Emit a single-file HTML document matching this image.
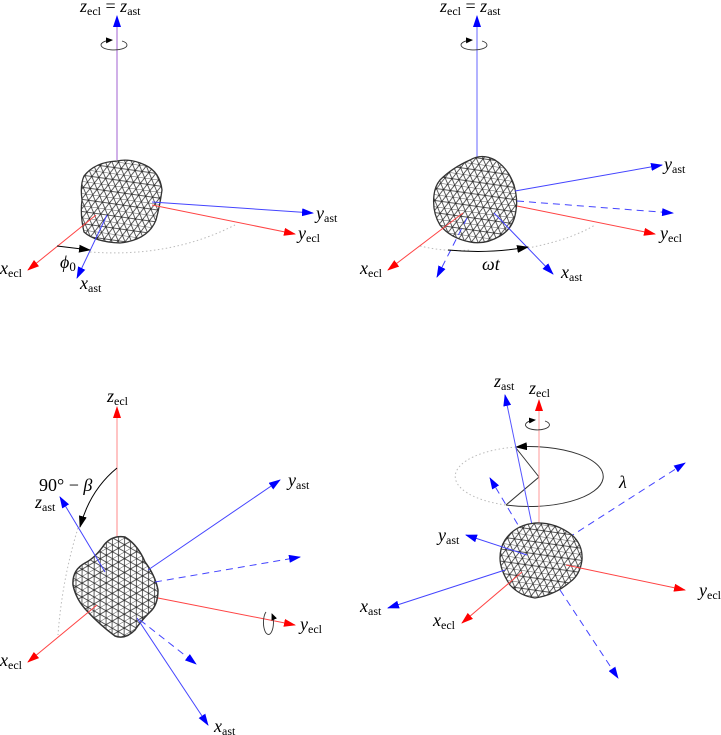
<!DOCTYPE html>
<html><head><meta charset="utf-8">
<style>
html,body{margin:0;padding:0;background:#fff;}
svg{display:block;}
text{font-family:"Liberation Serif",serif;fill:#000;}
.m{font-style:italic;font-size:18px;}
.s{font-size:12px;font-style:normal;}
</style></head><body>
<svg width="721" height="735" viewBox="0 0 721 735" xmlns="http://www.w3.org/2000/svg">
<defs>
<pattern id="mesh" width="7" height="12" patternUnits="userSpaceOnUse" patternTransform="rotate(8)">
<rect width="7" height="12" fill="#fff"/>
<path d="M0 0H7M0 6H7M0 0L7 12M7 0L0 12" stroke="#222" stroke-width="0.7" fill="none"/>
</pattern>
<pattern id="mesh2" width="7" height="12" patternUnits="userSpaceOnUse" patternTransform="rotate(-30)">
<rect width="7" height="12" fill="#fff"/>
<path d="M0 0H7M0 6H7M0 0L7 12M7 0L0 12" stroke="#222" stroke-width="0.7" fill="none"/>
</pattern>
<marker id="ab" markerWidth="12" markerHeight="8" refX="11" refY="4" orient="auto" markerUnits="userSpaceOnUse"><path d="M0 0L12 4L0 8Z" fill="#00f"/></marker>
<marker id="ar" markerWidth="12" markerHeight="8" refX="11" refY="4" orient="auto" markerUnits="userSpaceOnUse"><path d="M0 0L12 4L0 8Z" fill="#f00"/></marker>
<marker id="ak" markerWidth="12" markerHeight="8" refX="11" refY="4" orient="auto" markerUnits="userSpaceOnUse"><path d="M0 0L12 4L0 8Z" fill="#000"/></marker>
<marker id="aks" markerWidth="7" markerHeight="6" refX="6" refY="3" orient="auto" markerUnits="userSpaceOnUse"><path d="M0 0L7 3L0 6Z" fill="#000"/></marker>
</defs>

<!-- ============ PANEL 1 ============ -->
<path d="M90 252 Q170 258 235 225" stroke="#bbb" stroke-width="1" stroke-dasharray="1.5,2.5" fill="none"/>
<line x1="117" y1="160" x2="117" y2="16" stroke="#a060d0" stroke-width="1" marker-end="url(#ab)"/>
<path d="M112 47 A13 5 0 1 1 122 48" stroke="#333" fill="none" stroke-width="0.9" marker-end="url(#aks)" transform="rotate(180 117 44)"/>
<path d="M84 176 Q95 162 117 161 Q130 158 145 165 Q160 172 162 190 Q160 205 156 220 Q148 240 120 243 Q95 242 84 232 Q80 215 82 200 Q80 185 84 176Z" fill="url(#mesh)" stroke="#333" stroke-width="1.3"/>
<line x1="152" y1="202" x2="313" y2="213" stroke="#44f" stroke-width="1" marker-end="url(#ab)"/>
<line x1="152" y1="205" x2="295" y2="234" stroke="#f44" stroke-width="1" marker-end="url(#ar)"/>
<line x1="96" y1="215" x2="28" y2="270" stroke="#f44" stroke-width="1" marker-end="url(#ar)"/>
<line x1="107" y1="215" x2="77" y2="278" stroke="#44f" stroke-width="1" marker-end="url(#ab)"/>
<line x1="57" y1="246" x2="90" y2="250" stroke="#000" stroke-width="1" marker-end="url(#ak)"/>
<text x="80" y="12" class="m">z<tspan class="s" dy="3">ecl</tspan><tspan dy="-3" style="font-style:normal"> = </tspan>z<tspan class="s" dy="3">ast</tspan></text>
<text x="316" y="219" class="m">y<tspan class="s" dy="3">ast</tspan></text>
<text x="298" y="239" class="m">y<tspan class="s" dy="3">ecl</tspan></text>
<text x="0" y="274" class="m">x<tspan class="s" dy="3">ecl</tspan></text>
<text x="80" y="289" class="m">x<tspan class="s" dy="3">ast</tspan></text>
<text x="60" y="268" class="m">ϕ<tspan class="s" dy="3" style="font-size:13px">0</tspan></text>

<!-- ============ PANEL 2 ============ -->
<path d="M420 246 Q445 252 470 250" stroke="#bbb" stroke-width="1" stroke-dasharray="1.5,2.5" fill="none"/>
<path d="M528 248 Q570 240 595 225" stroke="#bbb" stroke-width="1" stroke-dasharray="1.5,2.5" fill="none"/>
<line x1="477" y1="158" x2="477" y2="16" stroke="#66f" stroke-width="1" marker-end="url(#ab)"/>
<path d="M472 47 A13 5 0 1 1 482 48" stroke="#333" fill="none" stroke-width="0.9" marker-end="url(#aks)" transform="rotate(180 477 44)"/>
<path d="M440 180 Q452 168 470 160 Q482 153 495 160 Q508 168 514 185 Q518 200 516 210 Q514 228 500 236 Q485 245 470 242 Q450 238 440 225 Q432 212 434 195 Q435 186 440 180Z" fill="url(#mesh)" stroke="#333" stroke-width="1.3"/>
<line x1="515" y1="191" x2="662" y2="165" stroke="#44f" stroke-width="1" marker-end="url(#ab)"/>
<line x1="517" y1="201" x2="673" y2="213" stroke="#44f" stroke-width="1" stroke-dasharray="7,5" marker-end="url(#ab)"/>
<line x1="517" y1="206" x2="655" y2="234" stroke="#f44" stroke-width="1" marker-end="url(#ar)"/>
<line x1="463" y1="213" x2="388" y2="270" stroke="#f44" stroke-width="1" marker-end="url(#ar)"/>
<line x1="467" y1="218" x2="437" y2="277" stroke="#44f" stroke-width="1" stroke-dasharray="7,5" marker-end="url(#ab)"/>
<line x1="494" y1="213" x2="553" y2="274" stroke="#44f" stroke-width="1" marker-end="url(#ab)"/>
<path d="M448 250 Q490 254 528 247" stroke="#000" stroke-width="1" fill="none" marker-end="url(#ak)"/>
<text x="440" y="12" class="m">z<tspan class="s" dy="3">ecl</tspan><tspan dy="-3" style="font-style:normal"> = </tspan>z<tspan class="s" dy="3">ast</tspan></text>
<text x="664" y="170" class="m">y<tspan class="s" dy="3">ast</tspan></text>
<text x="660" y="239" class="m">y<tspan class="s" dy="3">ecl</tspan></text>
<text x="360" y="274" class="m">x<tspan class="s" dy="3">ecl</tspan></text>
<text x="561" y="278" class="m">x<tspan class="s" dy="3">ast</tspan></text>
<text x="482" y="270" class="m">ωt</text>

<!-- ============ PANEL 3 ============ -->
<path d="M78 528 Q62 580 58 635" stroke="#bbb" stroke-width="1" stroke-dasharray="1.5,2.5" fill="none"/>
<line x1="117" y1="552" x2="117" y2="407" stroke="#f88" stroke-width="1" marker-end="url(#ar)"/>
<path d="M117 468 Q90 490 80 527" stroke="#000" stroke-width="1" fill="none" marker-end="url(#ak)"/>
<path d="M104 545 Q112 535 125 537 Q138 545 145 562 Q155 575 158 590 Q158 605 150 612 Q140 622 135 630 Q125 640 115 636 Q100 625 88 612 Q76 600 73 585 Q72 570 85 563 Q95 558 104 545Z" fill="url(#mesh2)" stroke="#333" stroke-width="1.5"/>
<line x1="105" y1="572" x2="60" y2="497" stroke="#44f" stroke-width="1" marker-end="url(#ab)"/>
<line x1="148" y1="570" x2="280" y2="480" stroke="#44f" stroke-width="1" marker-end="url(#ab)"/>
<line x1="155" y1="582" x2="300" y2="557" stroke="#44f" stroke-width="1" stroke-dasharray="7,5" marker-end="url(#ab)"/>
<line x1="158" y1="598" x2="295" y2="625" stroke="#f44" stroke-width="1" marker-end="url(#ar)"/>
<path d="M266 612 A5 12 0 1 0 272 614" stroke="#333" fill="none" stroke-width="0.9" marker-end="url(#aks)"/>
<line x1="97" y1="605" x2="28" y2="662" stroke="#f44" stroke-width="1" marker-end="url(#ar)"/>
<line x1="137" y1="618" x2="208" y2="725" stroke="#44f" stroke-width="1" marker-end="url(#ab)"/>
<line x1="140" y1="620" x2="196" y2="664" stroke="#44f" stroke-width="1" stroke-dasharray="7,5" marker-end="url(#ab)"/>
<text x="107" y="402" class="m">z<tspan class="s" dy="3">ecl</tspan></text>
<text x="39" y="491" style="font-size:18px">90° − <tspan font-style="italic">β</tspan></text>
<text x="35" y="508" class="m">z<tspan class="s" dy="3">ast</tspan></text>
<text x="288" y="486" class="m">y<tspan class="s" dy="3">ast</tspan></text>
<text x="300" y="630" class="m">y<tspan class="s" dy="3">ecl</tspan></text>
<text x="0" y="666" class="m">x<tspan class="s" dy="3">ecl</tspan></text>
<text x="214" y="732" class="m">x<tspan class="s" dy="3">ast</tspan></text>

<!-- ============ PANEL 4 ============ -->
<path d="M516 447 A74 30 0 0 0 506 505" stroke="#bbb" stroke-width="1" stroke-dasharray="1.5,2.5" fill="none"/>
<path d="M506 505 A74 30 0 1 0 516 447" stroke="#333" stroke-width="1" fill="none" marker-end="url(#ak)"/>
<polyline points="516,448 539,477 506,505" stroke="#333" stroke-width="1" fill="none"/>
<line x1="539" y1="525" x2="539" y2="400" stroke="#f99" stroke-width="1" marker-end="url(#ar)"/>
<path d="M535 427 A12 5 0 1 1 545 428" stroke="#333" fill="none" stroke-width="0.9" marker-end="url(#aks)" transform="rotate(180 540 424)"/>
<line x1="532" y1="525" x2="505" y2="395" stroke="#55f" stroke-width="1" marker-end="url(#ab)"/>
<line x1="530" y1="545" x2="490" y2="478" stroke="#44f" stroke-width="1" stroke-dasharray="7,5" marker-end="url(#ab)"/>
<line x1="568" y1="538" x2="685" y2="463" stroke="#44f" stroke-width="1" stroke-dasharray="7,5" marker-end="url(#ab)"/>
<path d="M505 540 Q515 525 535 523 Q555 522 572 535 Q583 545 582 560 Q580 575 570 582 Q555 595 535 598 Q520 596 510 585 Q500 570 500 558 Q500 548 505 540Z" fill="url(#mesh)" stroke="#333" stroke-width="1.3"/>
<line x1="527" y1="555" x2="466" y2="535" stroke="#44f" stroke-width="1" marker-end="url(#ab)"/>
<line x1="505" y1="570" x2="388" y2="608" stroke="#44f" stroke-width="1" marker-end="url(#ab)"/>
<line x1="522" y1="572" x2="462" y2="623" stroke="#f44" stroke-width="1" marker-end="url(#ar)"/>
<line x1="566" y1="565" x2="685" y2="590" stroke="#f44" stroke-width="1" marker-end="url(#ar)"/>
<line x1="560" y1="590" x2="618" y2="678" stroke="#44f" stroke-width="1" stroke-dasharray="7,5" marker-end="url(#ab)"/>
<text x="494" y="387" class="m">z<tspan class="s" dy="3">ast</tspan></text>
<text x="529" y="394" class="m">z<tspan class="s" dy="3">ecl</tspan></text>
<text x="619" y="488" class="m">λ</text>
<text x="438" y="541" class="m">y<tspan class="s" dy="3">ast</tspan></text>
<text x="699" y="596" class="m">y<tspan class="s" dy="3">ecl</tspan></text>
<text x="360" y="612" class="m">x<tspan class="s" dy="3">ast</tspan></text>
<text x="433" y="626" class="m">x<tspan class="s" dy="3">ecl</tspan></text>
</svg>
</body></html>
